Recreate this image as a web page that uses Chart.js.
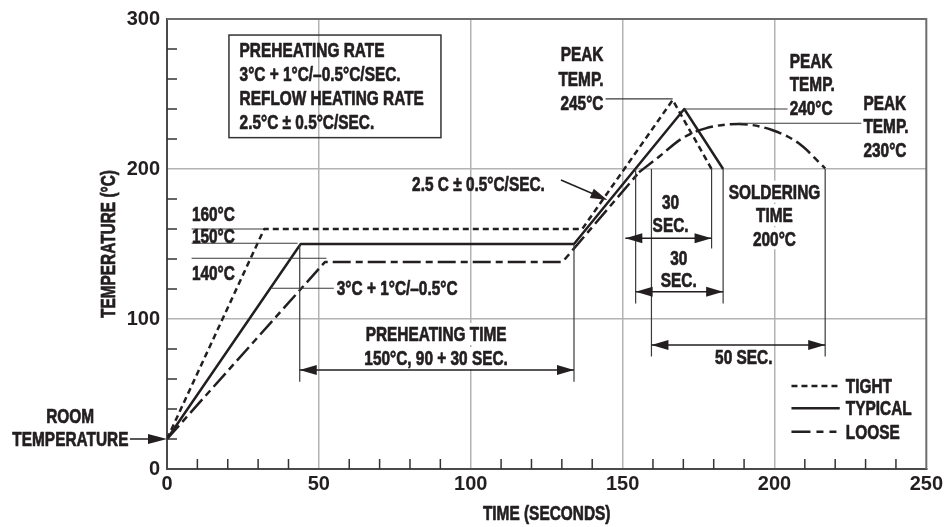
<!DOCTYPE html>
<html>
<head>
<meta charset="utf-8">
<script src="https://cdn.jsdelivr.net/npm/chart.js@4.4.1/dist/chart.umd.min.js"></script>
<style>
  html, body { margin: 0; padding: 0; background: #fff; }
  #wrap { width: 946px; height: 527px; }
</style>
</head>
<body>
<div id="wrap"><canvas id="myChart"></canvas></div>
<script>
// reflow profile (time in s, temperature in °C)
const tightTime = [0, 32, 136.7, 166.5, 179.3]
const tightTemp = [20, 160, 160, 246, 200]
const typicalTime = [0, 44, 134, 170.3, 183.1]
const typicalTemp = [20, 150, 150, 240, 200]
const looseTime = [0, 52, 130.2, 155.4]
const looseTemp = [20, 138, 138, 197.8]
const looseArcTime = [155.4, 162, 169.6, 177.3, 188.2, 199.2, 208, 216.7]
const looseArcTemp = [197.8, 208.2, 220.4, 227.1, 230, 226, 217.1, 200.4]
const xLabels = [0, 50, 100, 150, 200, 250]
const yLabels = [0, 100, 200, 300]
const seriesNames = ['TIGHT', 'TYPICAL', 'LOOSE']

const FONT = '"Liberation Sans", Arial, "DejaVu Sans", sans-serif'
const SX = 0.77   // squeeze the text horizontally, the original lettering is condensed
const INK = '#231f20'
const DASH_TIGHT = [6, 4]
const DASH_LOOSE = [18, 5, 7, 5]

const toPts = (xs, ys) => xs.map((x, i) => ({x, y: ys[i]}))

const annot = {
  id: 'annot',
  afterDatasetsDraw(chart) {
    const {ctx, chartArea: a, scales: {x, y}} = chart
    const px = v => x.getPixelForValue(v)
    const py = v => y.getPixelForValue(v)
    const size = 20

    ctx.save()

    // plot frame
    ctx.strokeStyle = '#6d6d6d'
    ctx.lineWidth = 2
    ctx.beginPath()
    ctx.moveTo(a.left, a.top); ctx.lineTo(a.right, a.top); ctx.lineTo(a.right, a.bottom)
    ctx.stroke()

    // minor ticks pointing inward
    ctx.strokeStyle = '#333'
    ctx.lineWidth = 1.5
    x.ticks.forEach(t => {
      if (t.value % 50 === 0) return
      const p = px(t.value)
      ctx.beginPath(); ctx.moveTo(p, a.bottom); ctx.lineTo(p, a.bottom - 10); ctx.stroke()
    })
    y.ticks.forEach(t => {
      if (t.value % 100 === 0) return
      const p = py(t.value)
      ctx.beginPath(); ctx.moveTo(a.left, p); ctx.lineTo(a.left + 10, p); ctx.stroke()
    })

    const line = (x1, y1, x2, y2, color = '#3a3a3a', w = 1.2) => {
      ctx.setLineDash([])
      ctx.strokeStyle = color
      ctx.lineWidth = w
      ctx.beginPath(); ctx.moveTo(x1, y1); ctx.lineTo(x2, y2); ctx.stroke()
    }
    const head = (tx, ty, fx, fy, len = 17, hw = 5) => {
      const ang = Math.atan2(ty - fy, tx - fx)
      ctx.fillStyle = INK
      ctx.beginPath()
      ctx.moveTo(tx, ty)
      ctx.lineTo(tx - len * Math.cos(ang) + hw * Math.sin(ang), ty - len * Math.sin(ang) - hw * Math.cos(ang))
      ctx.lineTo(tx - len * Math.cos(ang) - hw * Math.sin(ang), ty - len * Math.sin(ang) + hw * Math.cos(ang))
      ctx.closePath()
      ctx.fill()
    }
    const dim = (x1, x2, yv) => {
      const a1 = px(x1), a2 = px(x2), yy = py(yv)
      line(a1, yy, a2, yy, INK, 1.5)
      head(a1, yy, a2, yy)
      head(a2, yy, a1, yy)
    }
    const vline = (xv, y1, y2) => line(px(xv), py(y1), px(xv), py(y2))
    // cy is the centre of the capitals in pixels
    const text = (str, xp, cy, align = 'left', bg = false) => {
      ctx.font = `bold ${size}px ${FONT}`
      ctx.textAlign = 'left'
      ctx.textBaseline = 'alphabetic'
      const w = ctx.measureText(str).width * SX
      const left = align === 'left' ? xp : align === 'right' ? xp - w : xp - w / 2
      if (bg) {
        ctx.fillStyle = '#fff'
        ctx.fillRect(left - 3, cy - 11, w + 6, 22)
      }
      ctx.save()
      ctx.translate(left, cy + 0.36 * size)
      ctx.scale(SX, 1)
      ctx.setLineDash([])
      ctx.fillStyle = INK
      ctx.strokeStyle = INK
      ctx.lineWidth = 0.7
      ctx.lineJoin = 'round'
      ctx.fillText(str, 0, 0)
      ctx.strokeText(str, 0, 0)
      ctx.restore()
    }
    const lines = (arr, xv, yvs, align, bg) => arr.forEach((s, i) => text(s, px(xv), py(yvs[i]), align, bg))

    // rate box
    ctx.setLineDash([])
    ctx.strokeStyle = '#333'
    ctx.lineWidth = 1.5
    ctx.strokeRect(px(20.4), py(289.3), px(90.2) - px(20.4), py(220.9) - py(289.3))
    lines(['PREHEATING RATE', '3°C + 1°C/\u20130.5°C/SEC.', 'REFLOW HEATING RATE', '2.5°C \u00b1 0.5°C/SEC.'],
      23.9, [279.3, 263.3, 247.3, 231.3], 'left')

    // soak level guides
    line(px(8.1), py(160), px(31.5), py(160))
    line(px(8.1), py(150.5), px(43), py(150.5))
    line(px(8.1), py(140.5), px(52.5), py(140.5))
    text('160°C', px(8.2), py(170))
    text('150°C', px(8.2), py(155.3))
    text('140°C', px(8.2), py(131))

    // preheat rate leader
    line(px(34.4), py(120.5), px(55.2), py(120.5))
    text('3°C + 1°C/\u20130.5°C', px(55.9), py(120.5), 'left', true)

    // preheating time
    vline(43.7, 150, 58.2)
    vline(134, 150, 58.2)
    lines(['PREHEATING TIME', '150°C, 90 + 30 SEC.'], 88.6, [90, 74], 'center', true)
    dim(43.7, 134, 66)

    // room temperature
    text('ROOM', px(-31.9), py(35.7), 'center')
    text('TEMPERATURE', px(-12.7), py(20), 'right')
    line(px(-12.2), py(20), px(-5), py(20), INK, 1.5)
    head(px(0), py(20), px(-12), py(20), 19, 5)

    // reflow rate
    text('2.5 C \u00b1 0.5°C/SEC.', px(80.7), py(190), 'left')
    line(px(129.7), py(192.7), px(141), py(182.8), INK, 1.5)
    head(px(145), py(179.3), px(129.7), py(192.7))

    // peaks
    lines(['PEAK', 'TEMP.', '245°C'], 143.7, [276.5, 259.9, 244.3], 'right')
    line(px(144.4), py(246.7), px(166.5), py(246.7))
    lines(['PEAK', 'TEMP.', '240°C'], 205, [272.1, 256.5, 241], 'left')
    line(px(170.3), py(240), px(204.3), py(240))
    lines(['PEAK', 'TEMP.', '230°C'], 229.3, [244.3, 229, 213], 'left')
    line(px(188.2), py(230.5), px(228.6), py(230.5))

    // soldering time
    vline(154.3, 200, 110.4)
    vline(159.5, 200, 75)
    vline(179.3, 200, 147)
    vline(183.1, 200, 110.4)
    vline(216.7, 200, 75)
    dim(150.9, 179.3, 153.8)
    dim(154.3, 183.1, 118.2)
    dim(159.5, 216.7, 82.7)
    lines(['30', 'SEC.'], 165.8, [178.3, 163], 'center')
    lines(['30', 'SEC.'], 168.5, [141, 126], 'center')
    lines(['SOLDERING', 'TIME', '200°C'], 200, [184.9, 169.3, 153.8], 'center', true)
    text('50 SEC.', px(189.9), py(74.7), 'center')

    // legend
    const dashes = [DASH_TIGHT, [], [19, 6, 7, 6, 7, 20]]
    const legY = [55.3, 40.5, 24.9]
    seriesNames.forEach((n, i) => {
      ctx.setLineDash(dashes[i])
      ctx.strokeStyle = INK
      ctx.lineWidth = 2.5
      ctx.beginPath(); ctx.moveTo(px(205.6), py(legY[i])); ctx.lineTo(px(221.5), py(legY[i])); ctx.stroke()
      ctx.setLineDash([])
      text(n, px(223.5), py(legY[i]), 'left')
    })

    // axis titles
    ctx.save()
    ctx.translate(a.left - 59.5, (a.top + a.bottom) / 2)
    ctx.rotate(-Math.PI / 2)
    text('TEMPERATURE (°C)', 0, 0, 'center')
    ctx.restore()
    text('TIME (SECONDS)', (a.left + a.right) / 2, a.bottom + 44, 'center')

    ctx.restore()
  }
}

const lineStyle = {showLine: true, pointRadius: 0, borderColor: INK, borderWidth: 2.5, borderJoinStyle: 'round', fill: false}

const data = {
  datasets: [
    {...lineStyle, label: seriesNames[0], data: toPts(tightTime, tightTemp), borderDash: DASH_TIGHT, tension: 0},
    {...lineStyle, label: seriesNames[1], data: toPts(typicalTime, typicalTemp), tension: 0},
    {...lineStyle, label: seriesNames[2], data: toPts(looseTime, looseTemp), borderDash: DASH_LOOSE, tension: 0},
    {...lineStyle, label: seriesNames[2], data: toPts(looseArcTime, looseArcTemp), borderDash: DASH_LOOSE, cubicInterpolationMode: 'monotone'}
  ]
}

const tickFont = {family: FONT, size: 20, weight: 'bold'}

const config = {
  type: 'scatter',
  data,
  plugins: [annot],
  options: {
    responsive: true,
    maintainAspectRatio: false,
    animation: false,
    layout: {padding: {left: 0, right: 18, top: 19, bottom: 0}},
    plugins: {legend: {display: false}, tooltip: {enabled: false}},
    scales: {
      x: {
        type: 'linear', min: 0, max: 250,
        afterFit: s => { s.height = 58 },
        border: {color: '#4a4a4a', width: 2},
        grid: {
          drawTicks: false,
          lineWidth: 1.5,
          color: c => (c.tick && xLabels.includes(c.tick.value) && c.tick.value > 0 && c.tick.value < 250) ? '#b3b3b3' : 'rgba(0,0,0,0)'
        },
        ticks: {
          stepSize: 10, autoSkip: false, maxRotation: 0, padding: 3,
          color: INK, font: tickFont,
          callback: v => xLabels.includes(v) ? String(v) : ''
        }
      },
      y: {
        type: 'linear', min: 0, max: 300,
        afterFit: s => { s.width = 167 },
        border: {color: '#4a4a4a', width: 2},
        grid: {
          drawTicks: false,
          lineWidth: 1.5,
          color: c => (c.tick && yLabels.includes(c.tick.value) && c.tick.value > 0 && c.tick.value < 300) ? '#b3b3b3' : 'rgba(0,0,0,0)'
        },
        ticks: {
          stepSize: 20, autoSkip: false, padding: 7,
          color: INK, font: tickFont,
          callback: v => yLabels.includes(v) ? String(v) : ''
        }
      }
    }
  }
}

const myChart = new Chart(document.getElementById('myChart'), config)
</script>
</body>
</html>
